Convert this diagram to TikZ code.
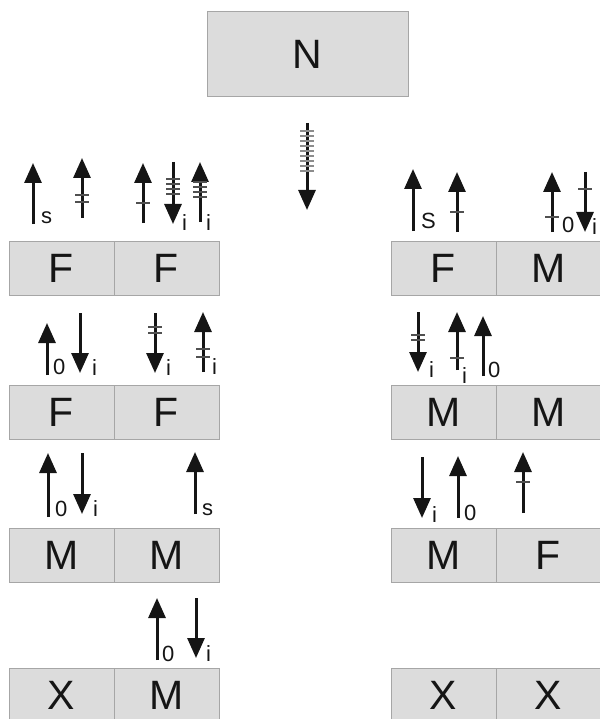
\documentclass[tikz,border=0pt]{standalone}
\usepackage{fontspec}
\setmainfont{Liberation Sans}
\usetikzlibrary{arrows.meta}
\definecolor{boxfill}{HTML}{DCDCDC}
\definecolor{boxline}{HTML}{A6A6A6}
\definecolor{ink}{HTML}{151515}
\definecolor{tickdark}{HTML}{505050}
\definecolor{ticklight}{HTML}{8C8C8C}
\newcommand\cellfont{\fontsize{41}{41}\selectfont}
\newcommand\subfont{\fontsize{22}{22}\selectfont}
\begin{document}
\begin{tikzpicture}[x=1pt,y=-1pt,
  cell/.style={draw=boxline, fill=boxfill, line width=1pt, minimum width=105pt,
    minimum height=54pt, inner sep=0pt, text=ink, font=\cellfont},
  spin/.style={draw=ink, line width=3pt, -{Triangle[length=20pt,width=17pt]}},
  tickmark/.style={draw=tickdark, line width=1.1pt},
  tickfaint/.style={draw=ticklight, line width=1.1pt},
  sub/.style={anchor=base west, inner sep=0pt, text=ink, font=\subfont}]
\useasboundingbox (0,0) rectangle (599,719);

% parent box
\node[cell, minimum width=201pt, minimum height=85pt] (n) at (307.5,54.5) {N};
\draw[spin] (307,123) -- (307,210);
\foreach \y in {131,136,...,172} \draw[tickfaint] (300,\y) -- (314,\y);

% ---- left column ----
\node[cell] (l1a) at (61.5,268) {F};
\node[cell] (l1b) at (166.5,268) {F};
\node[cell] (l2a) at (61.5,412.5) {F};
\node[cell] (l2b) at (166.5,412.5) {F};
\node[cell] (l3a) at (61.5,555) {M};
\node[cell] (l3b) at (166.5,555) {M};
\node[cell] (l4a) at (61.5,695) {X};
\node[cell] (l4b) at (166.5,695) {M};

% ---- right column ----
\node[cell] (r1a) at (443.5,268) {F};
\node[cell] (r1b) at (548.5,268) {M};
\node[cell] (r2a) at (443.5,412.5) {M};
\node[cell] (r2b) at (548.5,412.5) {M};
\node[cell] (r3a) at (443.5,555) {M};
\node[cell] (r3b) at (548.5,555) {F};
\node[cell] (r4a) at (443.5,695) {X};
\node[cell] (r4b) at (548.5,695) {X};

% arrows above left row 1
\draw[spin] (33,224) -- (33,163);
\node[sub] (s1) at (41,223) {s};
\draw[spin] (82,218) -- (82,158);
\foreach \y in {195,202} \draw[tickmark] (75,\y) -- (89,\y);
\draw[spin] (143,223) -- (143,163);
\draw[tickmark] (136,203) -- (150,203);
\draw[spin] (173,162) -- (173,224);
\foreach \y in {179,184,189,194} \draw[tickmark] (166,\y) -- (180,\y);
\node[sub] (s2) at (182,230) {i};
\draw[spin] (200,222) -- (200,162);
\foreach \y in {182,187,192,197} \draw[tickmark] (193,\y) -- (207,\y);
\node[sub] (s3) at (206,230) {i};

% arrows above right row 1
\draw[spin] (413,231) -- (413,169);
\node[sub] (s4) at (421,228) {S};
\draw[spin] (457,232) -- (457,172);
\draw[tickmark] (450,212) -- (464,212);
\draw[spin] (552,232) -- (552,172);
\draw[tickmark] (545,217) -- (559,217);
\node[sub] (s5) at (562,233) {0};
\draw[spin] (585,172) -- (585,232);
\draw[tickmark] (578,189) -- (592,189);
\node[sub] (s6) at (592,234) {i};

% arrows above left row 2
\draw[spin] (47,375) -- (47,323);
\node[sub] (s7) at (53,374) {0};
\draw[spin] (80,313) -- (80,373);
\node[sub] (s8) at (92,375) {i};
\draw[spin] (155,313) -- (155,373);
\foreach \y in {327,333} \draw[tickmark] (148,\y) -- (162,\y);
\node[sub] (s9) at (166,375) {i};
\draw[spin] (203,372) -- (203,312);
\foreach \y in {349,357} \draw[tickmark] (196,\y) -- (210,\y);
\node[sub] (s10) at (212,374) {i};

% arrows above right row 2
\draw[spin] (418,312) -- (418,372);
\foreach \y in {335,340} \draw[tickmark] (411,\y) -- (425,\y);
\node[sub] (s11) at (429,377) {i};
\draw[spin] (457,370) -- (457,312);
\draw[tickmark] (450,358) -- (464,358);
\node[sub] (s12) at (462,383) {i};
\draw[spin] (483,376) -- (483,316);
\node[sub] (s13) at (488,377) {0};

% arrows above left row 3
\draw[spin] (48,517) -- (48,453);
\node[sub] (s14) at (55,516) {0};
\draw[spin] (82,453) -- (82,514);
\node[sub] (s15) at (93,516) {i};
\draw[spin] (195,514) -- (195,452);
\node[sub] (s16) at (202,515) {s};

% arrows above right row 3
\draw[spin] (422,457) -- (422,518);
\node[sub] (s17) at (432,522) {i};
\draw[spin] (458,518) -- (458,456);
\node[sub] (s18) at (464,520) {0};
\draw[spin] (523,513) -- (523,452);
\draw[tickmark] (516,482) -- (530,482);

% arrows above left row 4
\draw[spin] (157,660) -- (157,598);
\node[sub] (s19) at (162,661) {0};
\draw[spin] (196,598) -- (196,658);
\node[sub] (s20) at (206,661) {i};
\end{tikzpicture}
\end{document}
